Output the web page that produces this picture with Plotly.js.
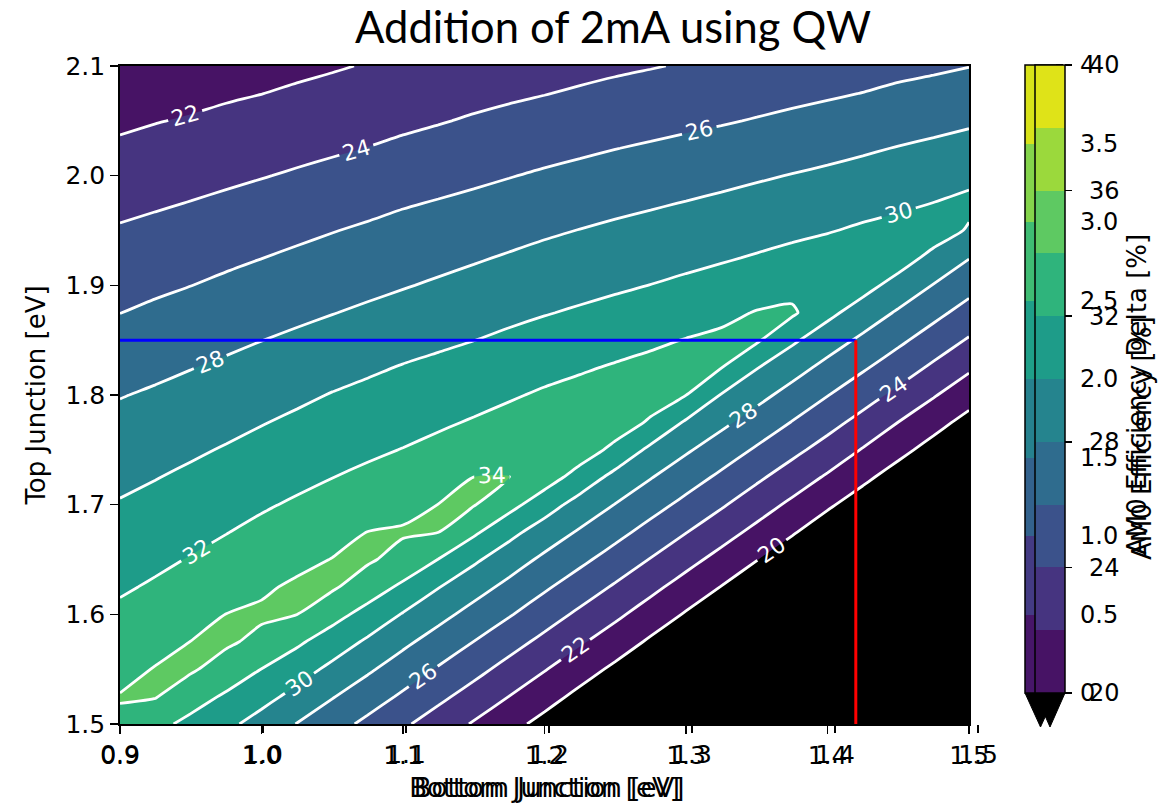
<!DOCTYPE html>
<html>
<head>
<meta charset="utf-8">
<script src="https://cdn.plot.ly/plotly-3.0.1.min.js"></script>
<style>
html,body{margin:0;padding:0;background:#ffffff;}
#chart{width:1173px;height:809px;}
</style>
</head>
<body>
<div id="chart"></div>
<script>
// ---- data ----
const bottomJunction = [0.9, 0.925, 0.95, 0.975, 1.0, 1.025, 1.05, 1.075, 1.1, 1.125, 1.15, 1.175,
                        1.2, 1.225, 1.25, 1.275, 1.3, 1.325, 1.35, 1.375, 1.4, 1.425, 1.45, 1.475, 1.5];
const topJunction = [1.5, 1.525, 1.55, 1.575, 1.6, 1.625, 1.65, 1.675, 1.7, 1.725, 1.75, 1.775, 1.8,
                     1.825, 1.85, 1.875, 1.9, 1.925, 1.95, 1.975, 2.0, 2.025, 2.05, 2.075, 2.1];
// efficiency [%], one row per top-junction value, one column per bottom-junction value
const efficiency = [
  [33.7, 32.52, 31.51, 30.46, 29.24, 27.95, 26.76, 25.56, 24.29, 23.08, 21.83, 20.63, 19.39, 18.12, 16.83, 15.6, 14.28, 13.08, 11.72, 10.44, 9.17, 8.05, 6.3, 5.53, 3.2],
  [34.1, 34.1, 32.8, 31.74, 30.65, 29.41, 28.11, 26.92, 25.71, 24.44, 23.22, 21.98, 20.76, 19.49, 18.22, 16.97, 15.67, 14.46, 13.11, 11.83, 10.56, 9.42, 7.7, 6.91, 4.6],
  [33.35, 34.1, 34.25, 33.14, 31.98, 30.86, 29.54, 28.29, 27.05, 25.83, 24.61, 23.35, 22.11, 20.86, 19.61, 18.35, 17.06, 15.83, 14.5, 13.22, 11.94, 10.8, 9.1, 8.28, 6.1],
  [32.92, 33.31, 34.02, 34.3, 33.5, 32.32, 31.06, 29.71, 28.41, 27.19, 25.98, 24.74, 23.5, 22.24, 21.02, 19.72, 18.44, 17.2, 15.89, 14.61, 13.33, 12.17, 10.6, 9.65, 7.6],
  [32.35, 32.76, 33.26, 34.02, 34.3, 34.02, 32.67, 31.33, 29.88, 28.59, 27.35, 26.16, 24.89, 23.63, 22.39, 21.11, 19.83, 18.58, 17.28, 16.0, 14.72, 13.54, 12.0, 11.03, 9.1],
  [31.78, 32.21, 32.67, 33.17, 33.72, 34.3, 34.25, 33.0, 31.64, 30.08, 28.76, 27.51, 26.27, 25.04, 23.78, 22.5, 21.22, 19.95, 18.67, 17.39, 16.11, 14.92, 13.4, 12.4, 10.5],
  [31.23, 31.65, 32.09, 32.56, 33.08, 33.51, 34.05, 34.25, 33.33, 31.97, 30.33, 28.91, 27.62, 26.43, 25.2, 23.92, 22.63, 21.36, 20.06, 18.78, 17.5, 16.29, 14.9, 13.77, 12.0],
  [30.68, 31.08, 31.51, 31.95, 32.42, 32.86, 33.3, 34.02, 34.2, 34.02, 32.33, 30.57, 29.06, 27.79, 26.59, 25.33, 24.06, 22.78, 21.49, 20.19, 18.89, 17.66, 16.3, 15.15, 13.5],
  [30.13, 30.51, 30.92, 31.35, 31.8, 32.22, 32.64, 33.03, 33.42, 34.02, 34.1, 32.64, 30.9, 29.24, 27.95, 26.72, 25.49, 24.22, 22.91, 21.61, 20.29, 19.04, 17.7, 16.52, 14.9],
  [29.58, 29.94, 30.33, 30.74, 31.18, 31.58, 31.98, 32.36, 32.72, 33.15, 34.01, 34.05, 32.92, 31.2, 29.41, 28.09, 26.86, 25.63, 24.34, 23.06, 21.76, 20.43, 19.14, 17.9, 16.4],
  [29.03, 29.37, 29.74, 30.13, 30.55, 30.95, 31.36, 31.7, 32.05, 32.45, 32.84, 33.25, 33.62, 33.01, 31.5, 29.57, 28.24, 27.02, 25.77, 24.51, 23.24, 21.88, 20.57, 19.27, 17.9],
  [28.48, 28.8, 29.14, 29.52, 29.92, 30.32, 30.72, 31.06, 31.4, 31.76, 32.14, 32.54, 32.92, 33.2, 33.04, 31.75, 29.76, 28.42, 27.17, 25.93, 24.67, 23.36, 21.98, 20.68, 19.35],
  [27.92, 28.23, 28.55, 28.9, 29.28, 29.66, 30.08, 30.41, 30.75, 31.07, 31.43, 31.82, 32.22, 32.52, 32.79, 32.93, 32.02, 29.9, 28.59, 27.31, 26.06, 24.81, 23.52, 22.15, 20.82],
  [27.28, 27.61, 27.95, 28.28, 28.64, 28.99, 29.37, 29.74, 30.1, 30.39, 30.71, 31.07, 31.47, 31.82, 32.15, 32.45, 32.77, 32.03, 30.08, 28.75, 27.44, 26.23, 24.97, 23.66, 22.3],
  [26.64, 26.97, 27.3, 27.64, 27.98, 28.31, 28.66, 29.01, 29.37, 29.69, 29.98, 30.33, 30.69, 31.02, 31.37, 31.71, 32.06, 32.38, 32.25, 30.31, 28.91, 27.62, 26.39, 25.11, 23.82],
  [25.98, 26.32, 26.65, 26.99, 27.33, 27.64, 27.95, 28.28, 28.63, 28.96, 29.28, 29.6, 29.91, 30.21, 30.53, 30.86, 31.21, 31.55, 32.1, 32.3, 30.49, 29.08, 27.78, 26.53, 25.26],
  [25.39, 25.69, 25.98, 26.33, 26.67, 26.97, 27.28, 27.58, 27.89, 28.22, 28.55, 28.88, 29.2, 29.47, 29.74, 30.02, 30.34, 30.68, 31.02, 31.36, 31.72, 30.69, 29.27, 27.92, 26.67],
  [24.78, 25.06, 25.35, 25.66, 25.98, 26.31, 26.61, 26.91, 27.22, 27.51, 27.83, 28.16, 28.49, 28.76, 29.03, 29.28, 29.55, 29.83, 30.14, 30.46, 30.8, 31.21, 30.91, 29.42, 28.06],
  [24.17, 24.43, 24.7, 24.99, 25.31, 25.61, 25.94, 26.24, 26.54, 26.81, 27.1, 27.42, 27.75, 28.04, 28.31, 28.55, 28.81, 29.08, 29.35, 29.63, 29.9, 30.25, 30.66, 30.99, 29.8],
  [23.55, 23.8, 24.05, 24.32, 24.61, 24.9, 25.21, 25.52, 25.85, 26.11, 26.38, 26.67, 26.98, 27.27, 27.56, 27.81, 28.06, 28.32, 28.58, 28.84, 29.11, 29.4, 29.63, 30.02, 30.47],
  [22.93, 23.18, 23.42, 23.67, 23.92, 24.19, 24.47, 24.78, 25.09, 25.37, 25.65, 25.93, 26.22, 26.48, 26.76, 27.0, 27.25, 27.52, 27.8, 28.06, 28.32, 28.6, 28.89, 29.18, 29.48],
  [22.3, 22.55, 22.78, 23.04, 23.28, 23.53, 23.77, 24.03, 24.33, 24.63, 24.91, 25.19, 25.45, 25.71, 25.97, 26.19, 26.43, 26.68, 26.95, 27.21, 27.48, 27.77, 28.07, 28.34, 28.62],
  [21.68, 21.93, 22.15, 22.41, 22.64, 22.89, 23.13, 23.38, 23.65, 23.89, 24.18, 24.44, 24.7, 24.95, 25.21, 25.42, 25.64, 25.86, 26.1, 26.36, 26.62, 26.9, 27.19, 27.47, 27.75],
  [21.05, 21.3, 21.52, 21.77, 21.98, 22.25, 22.49, 22.74, 23.01, 23.22, 23.49, 23.73, 23.95, 24.2, 24.45, 24.67, 24.88, 25.11, 25.34, 25.57, 25.79, 26.03, 26.32, 26.58, 26.86],
  [20.43, 20.68, 20.89, 21.14, 21.33, 21.6, 21.84, 22.1, 22.38, 22.54, 22.81, 23.07, 23.3, 23.5, 23.71, 23.91, 24.12, 24.36, 24.6, 24.83, 25.04, 25.25, 25.52, 25.71, 25.96]
];
const fillLevels = [20, 22, 24, 26, 28, 30, 32, 34, 36, 38, 40];
const lineLevels = [20, 22, 24, 26, 28, 30, 32, 34];
const efficiencyTicks = [20, 24, 28, 32, 36, 40];
const deltaLevels = [0, 0.5, 1.0, 1.5, 2.0, 2.5, 3.0, 3.5, 4.0];
const deltaTickText = ['0', '0.5', '1.0', '1.5', '2.0', '2.5', '3.0', '3.5', '4'];
const xTicks = [0.9, 1.0, 1.1, 1.2, 1.3, 1.4, 1.5];
const yTicks = [1.5, 1.6, 1.7, 1.8, 1.9, 2.0, 2.1];
const selectedBottom = [0.9, 1.42];
const selectedTop = [1.85, 1.85];
const markerBottom = [1.42, 1.42];
const markerTop = [1.5, 1.85];
const titleText = 'Addition of 2mA using QW';
const xTitle = 'Bottom Junction [eV]';
const yTitle = 'Top Junction [eV]';
const efficiencyLabel = 'AM0 Efficiency [%]';
const deltaLabel = 'AM0 Efficiency Delta [%]';

// ---- styles ----
const bandColors = ['#471365', '#463480', '#3b528b', '#2f6c8e', '#25848e',
                    '#1e9c89', '#2fb47c', '#5ec962', '#9bd93c', '#dfe318'];
const deltaColors = ['#471669', '#443b84', '#33628d', '#26818e',
                     '#1f9f88', '#3fbc73', '#84d44b', '#d8e219'];
const FONT = 'DejaVu Sans, sans-serif';
const PAD = '\u2002';

function stepScale(colors, lowColor) {
  const n = colors.length, out = [];
  if (lowColor) {
    const h = 0.5 / n;
    out.push([0, lowColor], [h, lowColor]);
    colors.forEach((c, k) => { out.push([h + k / n, c], [Math.min(1, h + (k + 1) / n), c]); });
  } else {
    colors.forEach((c, k) => { out.push([k / n, c], [(k + 1) / n, c]); });
  }
  return out;
}

const W = 1173, H = 809;
const L = 120, R = 978, T = 66, B = 724;
const pw = R - L, ph = B - T;
const px = v => (v - L) / pw;
const py = v => (B - v) / ph;
const SMOOTH = 0.6;

const data = [
  {
    type: 'contour', x: bottomJunction, y: topJunction, z: efficiency,
    autocontour: false,
    contours: {start: fillLevels[0], end: fillLevels[fillLevels.length - 2], size: fillLevels[1] - fillLevels[0],
               coloring: 'fill', showlines: false},
    colorscale: stepScale(bandColors, '#000000'),
    line: {width: 0, smoothing: SMOOTH},
    showscale: false, hoverinfo: 'skip'
  },
  {
    type: 'contour', x: bottomJunction, y: topJunction, z: efficiency,
    autocontour: false,
    contours: {start: lineLevels[0], end: lineLevels[lineLevels.length - 1], size: lineLevels[1] - lineLevels[0],
               coloring: 'none', showlabels: true,
               labelfont: {family: FONT, size: 22, color: '#ffffff'}},
    line: {color: '#ffffff', width: 2.8, smoothing: SMOOTH},
    showscale: false, hoverinfo: 'skip'
  },
  {
    type: 'scatter', mode: 'lines', x: selectedBottom, y: selectedTop,
    line: {color: '#0000ff', width: 3}, hoverinfo: 'skip', showlegend: false
  },
  {
    type: 'scatter', mode: 'lines', x: markerBottom, y: markerTop,
    line: {color: '#ff0000', width: 3}, hoverinfo: 'skip', showlegend: false
  },
  // colour bar of the efficiency delta (second figure, drawn underneath)
  {
    type: 'heatmap', xaxis: 'x2', yaxis: 'y', x: [5, 6], y: [5, 6],
    z: [[deltaLevels[0], deltaLevels[deltaLevels.length - 1]], [deltaLevels[0], deltaLevels[deltaLevels.length - 1]]],
    zmin: deltaLevels[0], zmax: deltaLevels[deltaLevels.length - 1],
    colorscale: stepScale(deltaColors), hoverinfo: 'skip',
    colorbar: {
      x: px(1025), xanchor: 'left', xpad: 0, thickness: 31, thicknessmode: 'pixels',
      y: py(65), yanchor: 'top', ypad: 0, len: (693 - 65) / ph, lenmode: 'fraction',
      outlinewidth: 1.5, outlinecolor: '#000000',
      tickmode: 'array', tickvals: deltaLevels, ticktext: deltaTickText.map(t => PAD + t),
      ticks: 'outside', ticklen: 7, tickwidth: 1.5, tickcolor: '#000',
      tickfont: {family: FONT, size: 24, color: '#000'}
    }
  },
  // colour bar of the efficiency
  {
    type: 'heatmap', xaxis: 'x2', yaxis: 'y', x: [5, 6], y: [5, 6],
    z: [[fillLevels[0], fillLevels[fillLevels.length - 1]], [fillLevels[0], fillLevels[fillLevels.length - 1]]],
    zmin: fillLevels[0], zmax: fillLevels[fillLevels.length - 1],
    colorscale: stepScale(bandColors), hoverinfo: 'skip',
    colorbar: {
      x: px(1035), xanchor: 'left', xpad: 0, thickness: 30, thicknessmode: 'pixels',
      y: py(65), yanchor: 'top', ypad: 0, len: (693 - 65) / ph, lenmode: 'fraction',
      outlinewidth: 1.5, outlinecolor: '#000000',
      tickmode: 'array', tickvals: efficiencyTicks, ticktext: efficiencyTicks.map(t => PAD + t),
      ticks: 'outside', ticklen: 7, tickwidth: 1.5, tickcolor: '#000',
      tickfont: {family: FONT, size: 24, color: '#000'}
    }
  }
];

function tri(x0, x1, yTop, yTip) {
  const xm = (x0 + x1) / 2;
  return `M ${px(x0)} ${py(yTop)} L ${px(x1)} ${py(yTop)} L ${px(xm)} ${py(yTip)} Z`;
}

const axisCommon = {
  range: [0.9, 1.5], tickmode: 'array', ticks: 'outside', ticklen: 8, tickwidth: 1.5, tickcolor: '#000',
  showgrid: false, zeroline: false, tickfont: {family: FONT, size: 25, color: '#000'}
};

const layout = {
  width: W, height: H,
  margin: {l: L, r: W - R, t: T, b: H - B, pad: 0},
  paper_bgcolor: '#ffffff', plot_bgcolor: 'rgba(0,0,0,0)',
  showlegend: false,
  title: {text: titleText, font: {family: 'Lato, sans-serif', size: 43.5, color: '#000'},
          x: 613 / W, xref: 'container', xanchor: 'center', y: 1 - 28 / H, yref: 'container', yanchor: 'middle'},
  xaxis: Object.assign({}, axisCommon, {
    domain: [0, (969 - L) / pw], tickvals: xTicks, ticktext: xTicks.map(v => v.toFixed(1)),
    showline: true, mirror: true, linecolor: '#000', linewidth: 1.8,
    title: {text: xTitle, font: {family: FONT, size: 26, color: '#000'}, standoff: 10}
  }),
  xaxis2: Object.assign({}, axisCommon, {
    domain: [0, 1], anchor: 'y', tickvals: xTicks, ticktext: xTicks.map(v => v.toFixed(1)),
    showline: false,
    title: {text: xTitle, font: {family: FONT, size: 26, color: '#000'}, standoff: 10}
  }),
  yaxis: Object.assign({}, axisCommon, {
    range: [1.5, 2.1], domain: [0, 1], tickvals: yTicks, ticktext: yTicks.map(v => v.toFixed(1)),
    showline: true, mirror: true, linecolor: '#000', linewidth: 1.8,
    title: {text: yTitle, font: {family: FONT, size: 26, color: '#000'}, standoff: 12}
  }),
  annotations: [
    {text: deltaLabel, xref: 'paper', yref: 'paper', x: px(1137), y: py(395), xanchor: 'center', yanchor: 'middle',
     textangle: -90, showarrow: false, font: {family: FONT, size: 26, color: '#000'}},
    {text: efficiencyLabel, xref: 'paper', yref: 'paper', x: px(1142), y: py(438), xanchor: 'center', yanchor: 'middle',
     textangle: -90, showarrow: false, font: {family: FONT, size: 26, color: '#000'}}
  ],
  shapes: [
    {type: 'path', xref: 'paper', yref: 'paper', path: tri(1025, 1056, 693, 727),
     fillcolor: '#000', line: {color: '#000', width: 1}},
    {type: 'path', xref: 'paper', yref: 'paper', path: tri(1035, 1065, 693, 727),
     fillcolor: '#000', line: {color: '#000', width: 1}}
  ]
};

Plotly.newPlot('chart', data, layout, {displayModeBar: false, staticPlot: true});
</script>
</body>
</html>
